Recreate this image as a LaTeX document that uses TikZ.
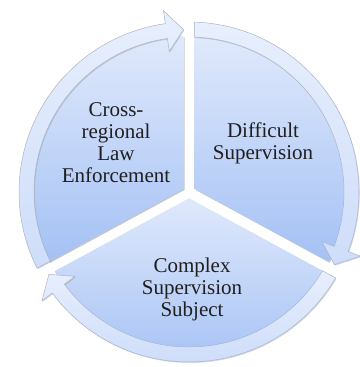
\documentclass[tikz,border=0pt]{standalone}
\usepackage{fontspec}
\setmainfont{Liberation Serif}
\usepackage{tikz}
\usetikzlibrary{shadows}

\definecolor{segtop}{RGB}{224,233,252}
\definecolor{segbot}{RGB}{164,193,244}
\definecolor{ringtop}{RGB}{232,239,253}
\definecolor{ringbot}{RGB}{206,221,250}
\definecolor{ringedge}{RGB}{170,180,200}

\tikzset{
  segment/.style={top color=segtop, bottom color=segbot, draw=none,
    drop shadow={shadow xshift=1pt, shadow yshift=-1.2pt, opacity=0.45}},
  ringarrow/.style={top color=ringtop, bottom color=ringbot, draw=ringedge, line width=0.5pt,
    drop shadow={shadow xshift=0.8pt, shadow yshift=-1pt, opacity=0.3}},
  seglabel/.style={align=center, text=black!88, inner sep=0pt,
    font=\fontsize{21}{22}\selectfont}
}

\begin{document}
\begin{tikzpicture}[x=1pt, y=1pt]

  \useasboundingbox (0,0) rectangle (359,367);

  \begin{scope}[shift={(189,175)}]

    % three pie segments, split by white gaps
    \foreach \lo/\hi/\d in {90/208.5/6.40, -28.5/90/6.40, 208.5/331.5/6.26}
      \path[segment] ({(\lo+\hi)/2}:\d pt) -- ({\lo+2.02}:156pt)
        arc[start angle={\lo+2.02}, end angle={\hi-2.02}, radius=156pt] -- cycle;

    % circular arrows round the segments (clockwise)
    \foreach \a/\b in {208.5/90, 90/-28.5, -28.5/-151.5}
      \path[ringarrow] ({\a-1.85}:170pt)
        arc[start angle={\a-1.85}, end angle={\b+8}, radius=170pt]
        -- ({\b+8}:183pt) -- ({\b+1.94}:162.5pt) -- ({\b+8}:142pt)
        -- ({\b+8}:155pt)
        arc[start angle={\b+8}, end angle={\a-2.03}, radius=155pt] -- cycle;

  \end{scope}

  \node[seglabel] (lawtext) at (116,224) {Cross-\\regional\\Law\\Enforcement};
  \node[seglabel] (hardtext) at (263,224) {Difficult\\Supervision};
  \node[seglabel] (subjtext) at (192,78) {Complex\\Supervision\\Subject};

\end{tikzpicture}
\end{document}
